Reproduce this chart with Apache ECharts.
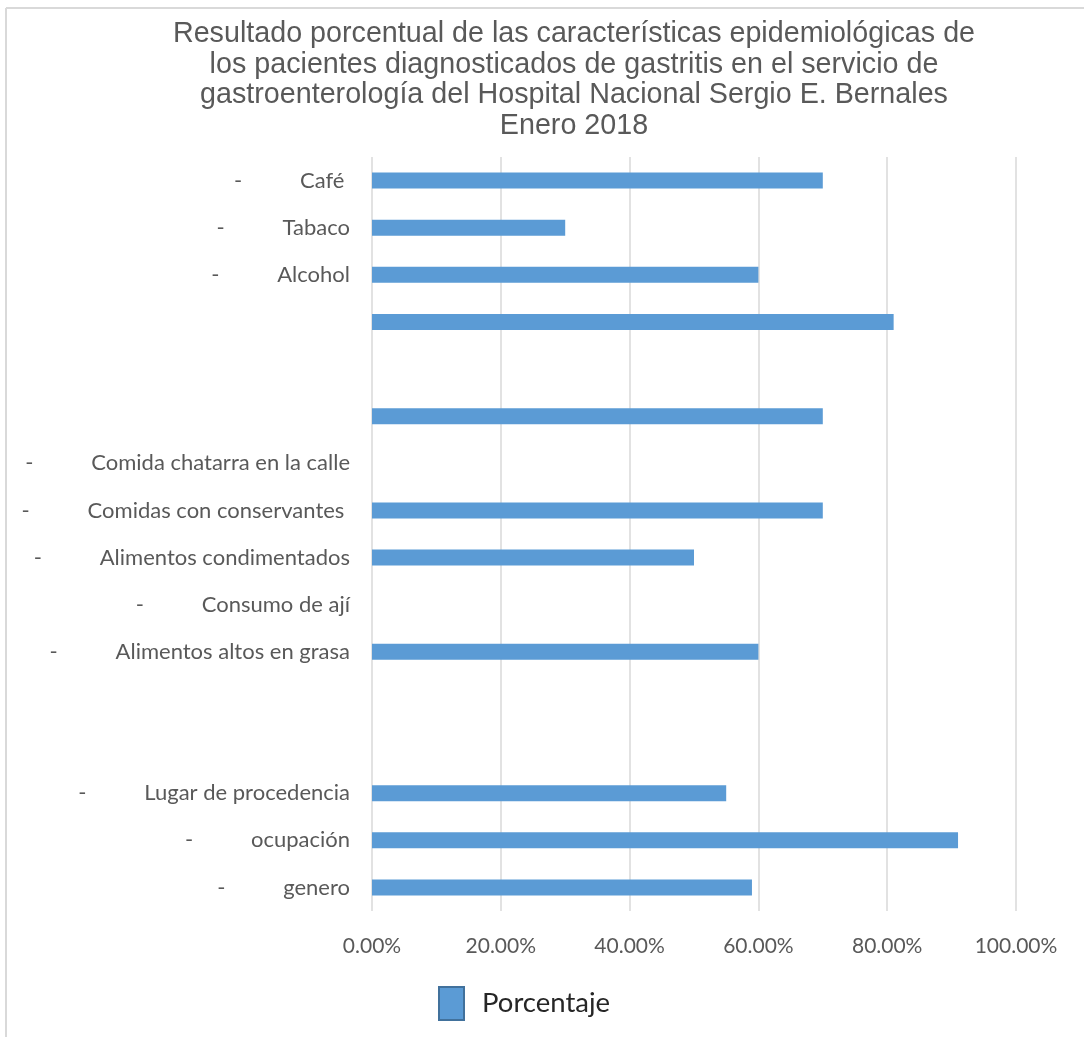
<!DOCTYPE html>
<html>
<head>
<meta charset="utf-8">
<script src="https://cdn.jsdelivr.net/npm/echarts@6/dist/echarts.min.js"></script>
<style>
html,body{margin:0;padding:0;background:#fff;}
#chart{width:1084px;height:1037px;}
</style>
</head>
<body>
<div id="chart"></div>
<script>
const titleText = 'Resultado porcentual de las características epidemiológicas de\nlos pacientes diagnosticados de gastritis en el servicio de\ngastroenterología del Hospital Nacional Sergio E. Bernales\nEnero 2018';
const categories = [
  'Café ', 'Tabaco', 'Alcohol', '', ' ', '  ',
  'Comida chatarra en la calle', 'Comidas con conservantes ', 'Alimentos condimentados',
  'Consumo de ají', 'Alimentos altos en grasa', '   ', '    ',
  'Lugar de procedencia', 'ocupación', 'genero'
];
const porcentaje = [0.70, 0.30, 0.60, 0.81, null, 0.70, null, 0.70, 0.50, null, 0.60, null, null, 0.55, 0.91, 0.59];
const xTicks = [0, 0.2, 0.4, 0.6, 0.8, 1.0];
const seriesName = 'Porcentaje';

const chart = echarts.init(document.getElementById('chart'));
chart.setOption({
  animation: false,
  backgroundColor: '#fff',
  graphic: [
    {type: 'line', shape: {x1: 6, y1: 8, x2: 1084, y2: 8}, style: {stroke: '#D9D9D9', lineWidth: 2}},
    {type: 'line', shape: {x1: 6, y1: 8, x2: 6, y2: 1037}, style: {stroke: '#D9D9D9', lineWidth: 2}}
  ],
  title: {
    text: titleText,
    left: 569, textAlign: 'center', top: 13.5,
    textStyle: {fontFamily: 'Liberation Sans', fontSize: 28.7, fontWeight: 'normal', color: '#595959', lineHeight: 30.8}
  },
  legend: {
    data: [seriesName],
    left: 438, top: 986, padding: 0,
    icon: 'rect',
    itemWidth: 25, itemHeight: 33,
    itemStyle: {borderColor: '#41719C', borderWidth: 2},
    textStyle: {fontFamily: 'Lato', fontSize: 27.5, color: '#262626', padding: [0, 0, 0, 13]}
  },
  grid: {left: 372, right: 68, top: 157, bottom: 126, containLabel: false},
  xAxis: {
    type: 'value', min: 0, max: 1, interval: 0.2,
    axisLine: {show: false}, axisTick: {show: false},
    splitLine: {show: true, lineStyle: {color: '#D9D9D9', width: 1.5}},
    axisLabel: {
      margin: 25, fontFamily: 'Lato', fontSize: 21, color: '#595959',
      formatter: v => (v * 100).toFixed(2) + '%'
    }
  },
  yAxis: {
    type: 'category', data: categories, inverse: true,
    axisLine: {show: false}, axisTick: {show: false}, splitLine: {show: false},
    axisLabel: {
      margin: 22, interval: 0,
      formatter: v => v.trim() ? '{d|-}{t|' + v + '}' : '',
      rich: {
        d: {width: 66, align: 'left', fontFamily: 'Lato', fontSize: 22, color: '#595959'},
        t: {fontFamily: 'Lato', fontSize: 22, color: '#595959'}
      }
    }
  },
  series: [{
    name: seriesName, type: 'bar', data: porcentaje, barWidth: 16,
    itemStyle: {color: '#5B9BD5'}
  }]
});
</script>
</body>
</html>
